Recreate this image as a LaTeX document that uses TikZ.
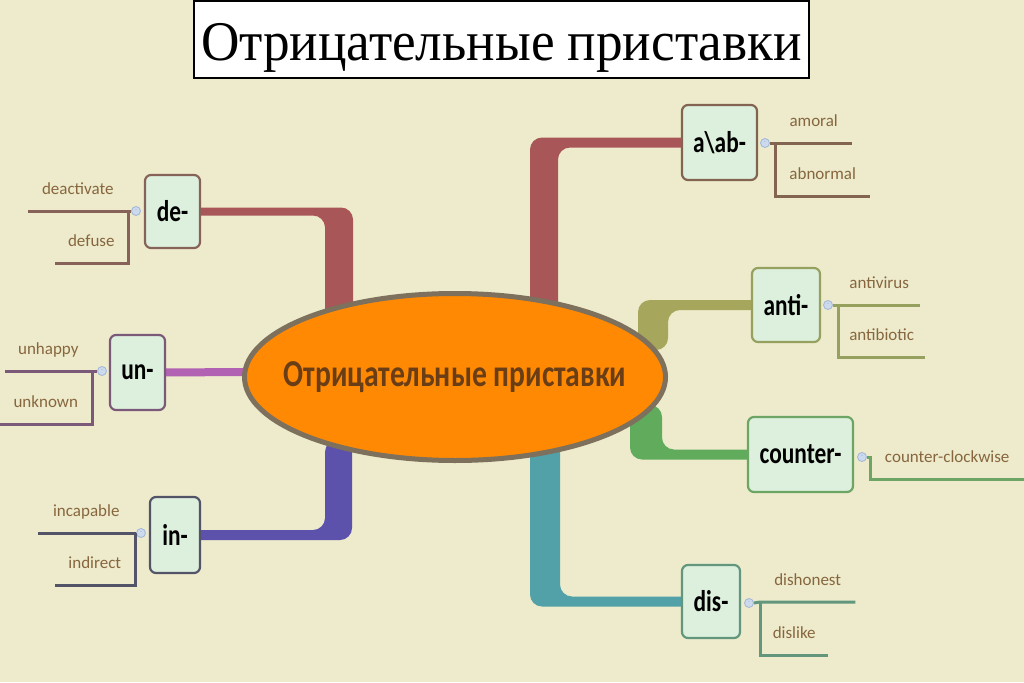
\documentclass[tikz,border=0pt]{standalone}
\usepackage{fontspec}
\setmainfont{Liberation Serif}
\newfontfamily\titlefont[FakeStretch=0.95]{Liberation Serif}
\newfontfamily\mapfont{Carlito}
\newfontfamily\mapbold[FakeStretch=0.78]{Carlito}
\usetikzlibrary{calc, shapes.geometric}

\definecolor{paper}{RGB}{237,235,204}
\definecolor{boxfill}{RGB}{221,240,221}
\definecolor{wordcol}{RGB}{135,102,62}
\definecolor{coretext}{RGB}{105,62,22}
\definecolor{corefill}{RGB}{255,137,2}
\definecolor{coreline}{RGB}{125,112,92}
\definecolor{dotfill}{RGB}{205,218,238}
\definecolor{dotline}{RGB}{160,182,215}
% branch colours
\definecolor{colde}{RGB}{168,86,88}
\definecolor{colun}{RGB}{178,98,178}
\definecolor{colin}{RGB}{92,82,172}
\definecolor{colab}{RGB}{168,86,88}
\definecolor{colanti}{RGB}{166,166,92}
\definecolor{colcounter}{RGB}{96,172,92}
\definecolor{coldis}{RGB}{82,160,168}
% frames and leaf lines
\definecolor{linede}{RGB}{135,98,88}
\definecolor{lineun}{RGB}{122,90,120}
\definecolor{linein}{RGB}{84,84,104}
\definecolor{lineab}{RGB}{130,100,80}
\definecolor{lineanti}{RGB}{150,160,95}
\definecolor{linecounter}{RGB}{108,165,100}
\definecolor{linedis}{RGB}{98,150,125}

\pgfdeclarelayer{back}
\pgfsetlayers{back,main}

\begin{document}
\begin{tikzpicture}[x=1pt, y=-1pt,
		prefix/.style={draw=#1, line width=2.2pt, rounded corners=6pt, fill=boxfill,
			minimum height=73pt, inner sep=0pt, text=black,
			font=\mapbold\bfseries\fontsize{30}{30}\selectfont},
		word/.style={inner xsep=0pt, inner ysep=16pt, text depth=0pt, text=wordcol,
			font=\mapfont\fontsize{17}{17}\selectfont},
		leaf/.style={draw=#1, line width=3pt},
		knob/.style={circle, draw=dotline, fill=dotfill, line width=0.8pt,
			minimum size=9pt, inner sep=0pt, text=dotline, font=\fontsize{7}{7}\selectfont},
		branch/.style={fill=#1, rounded corners=12pt}]
	
	\useasboundingbox (0,0) rectangle (1024,682);
	
	% title
	\node[draw, line width=2pt, fill=white, minimum width=615pt, minimum height=77pt,
		inner sep=0pt, text height=48pt, text depth=5pt,
		font=\titlefont\fontsize{56}{56}\selectfont] (title) at (501.5,39.5) {Отрицательные приставки};
	
	% centre
	\node[ellipse, draw=coreline, line width=5pt, fill=corefill, minimum width=421pt,
		minimum height=167pt, inner xsep=-40pt, inner ysep=0pt, text=coretext,
		font=\mapbold\bfseries\fontsize{38}{38}\selectfont] (core) at (455,377) {Отрицательные приставки};
	
	% prefixes
	\node[prefix=linede, minimum width=55pt] (de) at (172.5,211.5) {de-};
	\node[prefix=lineun, minimum width=55pt, minimum height=75pt] (un) at (137.5,372.5) {un-};
	\node[prefix=linein, minimum width=50pt, minimum height=76pt] (in) at (175,535) {in-};
	\node[prefix=lineab, minimum width=75pt, minimum height=75pt] (ab) at (719.5,142.5) {a\textbackslash ab-};
	\node[prefix=lineanti, minimum width=68pt, minimum height=74pt] (anti) at (786,305) {anti-};
	\node[prefix=linecounter, minimum width=105pt, minimum height=75pt] (counter) at (800.5,454.5) {counter-};
	\node[prefix=linedis, minimum width=58pt] (dis) at (711,601.5) {dis-};
	
	% roots of the branches, hidden under the centre
	\coordinate (rde) at (339,320);
	\coordinate (run) at (270,372);
	\coordinate (rin) at (338.5,440);
	\coordinate (rab) at (544,320);
	\coordinate (ranti) at (653,350);
	\coordinate (rcounter) at (646,405);
	\coordinate (rdis) at (545,440);
	
	\begin{pgfonlayer}{back}
		\fill[paper] (0,0) rectangle (1024,682);
		
		\fill[branch=colde] ($(rde)+(-14,0)$) |- ($(de.center)+(0,4)$) -- ($(de.center)+(0,-4)$) -| ($(rde)+(14,0)$) -- cycle;
		\draw[colun, line width=8pt] (un.center) -- (run);
		\fill[branch=colin] ($(rin)+(-13.5,0)$) |- ($(in.center)+(0,-5)$) -- ($(in.center)+(0,5)$) -| ($(rin)+(13.5,0)$) -- cycle;
		
		\fill[branch=colab] ($(rab)+(14,0)$) |- ($(ab.center)+(0,5)$) -- ($(ab.center)+(0,-5)$) -| ($(rab)+(-14,0)$) -- cycle;
		\fill[branch=colanti] ($(ranti)+(15,0)$) |- ($(anti.center)+(0,5)$) -- ($(anti.center)+(0,-5)$) -| ($(ranti)+(-15,0)$) -- cycle;
		\fill[branch=colcounter] ($(rcounter)+(16,0)$) |- ($(counter.center)+(0,-5)$) -- ($(counter.center)+(0,5)$) -| ($(rcounter)+(-16,0)$) -- cycle;
		\fill[branch=coldis] ($(rdis)+(15,0)$) |- ($(dis.center)+(0,-5)$) -- ($(dis.center)+(0,5)$) -| ($(rdis)+(-15,0)$) -- cycle;
	\end{pgfonlayer}
	
	% collapse knobs
	\node[knob] (kde) at (136,211) {-};
	\node[knob] (kun) at (102,371) {-};
	\node[knob] (kin) at (141,533) {-};
	\node[knob] (kab) at (765,143) {-};
	\node[knob] (kanti) at (828,305) {-};
	\node[knob] (kcounter) at (862,457) {-};
	\node[knob] (kdis) at (749,603) {-};
	
	% words, left side
	\node[word, anchor=south east, minimum width=100pt] (deactivate) at (128,211) {deactivate};
	\node[word, anchor=south east, minimum width=73pt] (defuse) at (128,263) {defuse};
	\node[word, anchor=south east, minimum width=87pt] (unhappy) at (92,371) {unhappy};
	\node[word, anchor=south east, minimum width=92pt] (unknown) at (92,424) {unknown};
	\node[word, anchor=south east, minimum width=97pt] (incapable) at (135,533) {incapable};
	\node[word, anchor=south east, minimum width=80pt] (indirect) at (135,585) {indirect};
	
	% words, right side
	\node[word, anchor=south west, minimum width=77pt] (amoral) at (775,143) {amoral};
	\node[word, anchor=south west, minimum width=95pt] (abnormal) at (775,196) {abnormal};
	\node[word, anchor=south west, minimum width=82pt] (antivirus) at (838,305) {antivirus};
	\node[word, anchor=south west, minimum width=87pt] (antibiotic) at (838,357) {antibiotic};
	\node[word, anchor=south west, minimum width=154pt] (clockwise) at (870,479) {counter-clockwise};
	\node[word, anchor=south west, minimum width=95pt] (dishonest) at (760,602) {dishonest};
	\node[word, anchor=south west, minimum width=68pt] (dislike) at (760,655) {dislike};
	
	% leaf lines
	\draw[leaf=linede] (kde.west) -- (deactivate.south east) -- (deactivate.south west);
	\draw[leaf=linede] (deactivate.south east) |- (defuse.south west);
	\draw[leaf=lineun] (kun.west) -- (unhappy.south east) -- (unhappy.south west);
	\draw[leaf=lineun] (unhappy.south east) |- (unknown.south west);
	\draw[leaf=linein] (kin.west) -- (incapable.south east) -- (incapable.south west);
	\draw[leaf=linein] (incapable.south east) |- (indirect.south west);
	
	\draw[leaf=lineab] (kab.east) -- (amoral.south west) -- (amoral.south east);
	\draw[leaf=lineab] (amoral.south west) |- (abnormal.south east);
	\draw[leaf=lineanti] (kanti.east) -- (antivirus.south west) -- (antivirus.south east);
	\draw[leaf=lineanti] (antivirus.south west) |- (antibiotic.south east);
	\draw[leaf=linecounter] (kcounter.east) -| (clockwise.south west) -- (clockwise.south east);
	\draw[leaf=linedis] (kdis.east) -- (dishonest.south west) -- (dishonest.south east);
	\draw[leaf=linedis] (dishonest.south west) |- (dislike.south east);
\end{tikzpicture}
\end{document}
